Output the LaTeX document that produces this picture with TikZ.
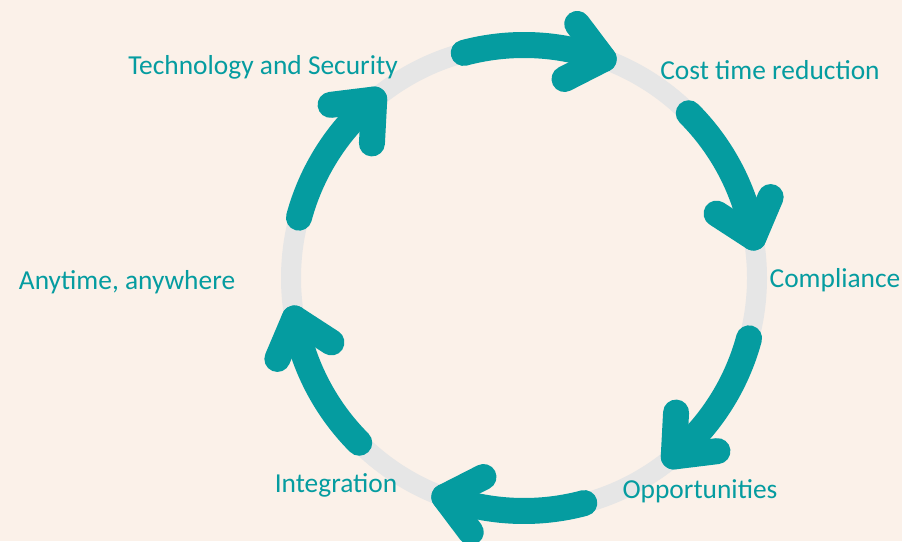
\documentclass[tikz,border=0pt]{standalone}
\usepackage{fontspec}
\setmainfont{Carlito}
\definecolor{bgcream}{RGB}{251,241,233}
\definecolor{ringgray}{RGB}{230,230,230}
\definecolor{cycleteal}{RGB}{5,156,160}
\begin{document}
\begin{tikzpicture}
  [
    ring/.style={draw=ringgray,line width=4mm},
    flow/.style={draw=cycleteal,line width=5.2mm,line cap=round,line join=round},
    stage/.style={text=cycleteal,font=\fontsize{15.6}{18}\selectfont,anchor=base,inner sep=0mm},
  ]
  \clip (0,0) rectangle (18.04,10.82);
  \fill[bgcream] (0,0) rectangle (18.04,10.82);
  \coordinate (c) at (10.48,5.26);
  \draw[ring] (c) circle (4.66);
  \foreach \s in {105,45,-15,-75,-135,-195}
  {
    \pgfmathsetmacro\e{\s-35}
    \coordinate (tail) at ([shift={(\s:4.66)}]c);
    \coordinate (tip) at ([shift={(\e:4.66)}]c);
    \draw[flow] (tail) arc[start angle=\s,end angle=\e,radius=4.66];
    \draw[flow] ([shift={(\e+137:0.88)}]tip) -- (tip) -- ([shift={(\e+57:0.88)}]tip);
  }
  \node (tech) at (5.26,9.32) [stage] {Technology and Security};
  \node (cost) at (15.40,9.22) [stage] {Cost time reduction};
  \node (comp) at (16.70,5.06) [stage] {Compliance};
  \node (oppo) at (14.00,0.86) [stage] {Opportunities};
  \node (inte) at (6.72,0.98) [stage] {Integration};
  \node (any) at (2.54,5.02) [stage] {Anytime, anywhere};
\end{tikzpicture}
\end{document}
